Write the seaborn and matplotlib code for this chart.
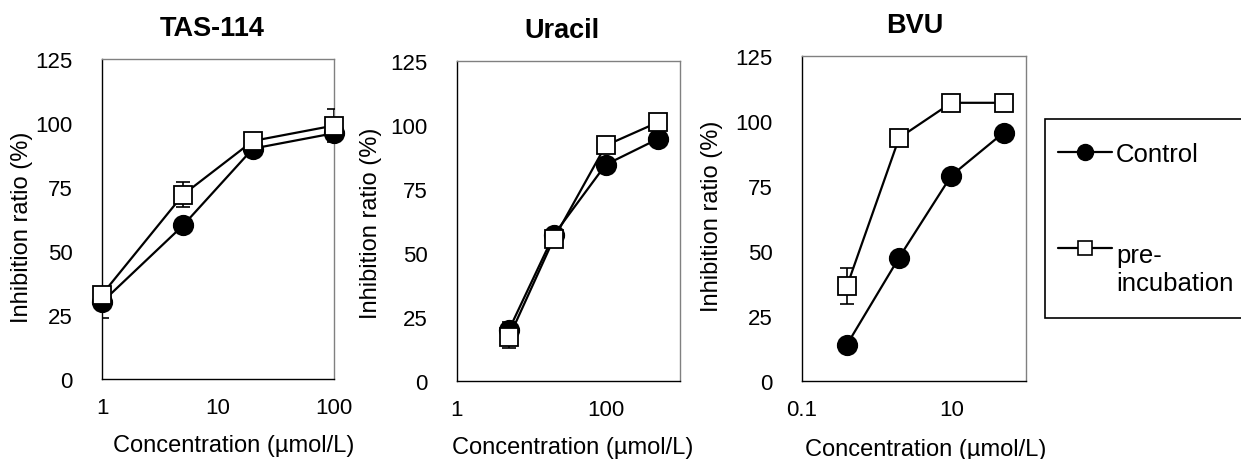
import numpy as np
import pandas as pd
import seaborn as sns
import matplotlib.pyplot as plt
from matplotlib.lines import Line2D
from matplotlib.legend_handler import HandlerLine2D

# values
TAS_CONC = [1, 5, 20, 100]
TAS_CONTROL = [30, 60, 90, 96]
TAS_CONTROL_SD = [6, 2, 2, 2]
TAS_PRE = [33, 72, 93, 99]
TAS_PRE_SD = [3, 5, 2, 6.5]

URA_CONC = [5, 20, 100, 500]
URA_CONTROL = [20, 57, 84.5, 94.5]
URA_CONTROL_SD = [3, 2, 2, 2]
URA_PRE = [17, 55.5, 92, 101]
URA_PRE_SD = [4, 2, 2, 2]

BVU_CONC = [0.4, 2, 10, 50]
BVU_CONTROL = [14, 47.5, 79, 95.5]
BVU_CONTROL_SD = [2, 2, 2, 2]
BVU_PRE = [36.5, 93.5, 107, 107]
BVU_PRE_SD = [7, 2, 2, 2]

TITLES = ['TAS-114', 'Uracil', 'BVU']
X_LIMITS = [(1, 100), (1, 1000), (0.1, 100)]
X_TICKS = [[1, 10, 100], [1, 100], [0.1, 10]]
X_TICK_LABELS = [['1', '10', '100'], ['1', '100'], ['0.1', '10']]
Y_TICKS = [0, 25, 50, 75, 100, 125]
GROUPS = ['Control', 'pre-\nincubation']

W, H = 1241, 460
# axes boxes in pixels: left, top, right, bottom
BOXES = [(102, 60, 334, 380), (457, 62, 680, 382), (802, 57, 1026, 382)]
# where the Excel-style titles sit, in axes fractions
TITLE_X = [0.473, 0.47, 0.505]
XLABEL_POS = [(0.569, -0.172), (0.52, -0.172), (0.554, -0.175)]
YLABEL_POS = [(-0.297, 0.476), (-0.338, 0.497), (-0.351, 0.509)]

sns.set_theme(style='white')
plt.rcParams['font.family'] = ['Liberation Sans', 'DejaVu Sans']
plt.rcParams['text.color'] = 'black'
plt.rcParams['axes.labelcolor'] = 'black'
plt.rcParams['xtick.color'] = 'black'
plt.rcParams['ytick.color'] = 'black'


class FirstLineHandler(HandlerLine2D):
    """Puts the legend marker level with the first line of its label."""

    def __init__(self, shift=0.0, **kw):
        super().__init__(**kw)
        self.shift = shift

    def create_artists(self, legend, orig_handle, xdescent, ydescent,
                       width, height, fontsize, trans):
        artists = super().create_artists(legend, orig_handle, xdescent,
                                         ydescent, width, height, fontsize,
                                         trans)
        for a in artists:
            a.set_ydata(np.asarray(a.get_ydata()) + self.shift * fontsize)
        return artists


def make_frame(conc, control, control_sd, pre, pre_sd):
    """
    Builds a long dataframe of one compound's two series.
    """
    control_df = pd.DataFrame({'conc': conc, 'ratio': control,
                               'sd': control_sd, 'group': GROUPS[0]})
    pre_df = pd.DataFrame({'conc': conc, 'ratio': pre,
                           'sd': pre_sd, 'group': GROUPS[1]})
    return pd.concat([control_df, pre_df], ignore_index=True)


def draw_panel(ax, data, i):
    """
    Draws the two inhibition curves with error bars on one axes.
    """
    styles = {GROUPS[0]: dict(marker='o', markersize=14,
                              markerfacecolor='black', zorder=3),
              GROUPS[1]: dict(marker='s', markersize=13,
                              markerfacecolor='white', zorder=5)}
    for group in GROUPS:
        sub = data[data['group'] == group]
        ax.errorbar(sub['conc'], sub['ratio'], yerr=sub['sd'], fmt='none',
                    ecolor='black', elinewidth=1.2, capsize=5,
                    capthick=1.2, zorder=styles[group]['zorder'] - 1)
        sns.lineplot(data=sub, x='conc', y='ratio', ax=ax, color='black',
                     linewidth=1.6, markeredgecolor='black',
                     markeredgewidth=1.3, legend=False, clip_on=False,
                     **styles[group])

    ax.set_xscale('log')
    ax.set_xlim(*X_LIMITS[i])
    ax.set_ylim(0, 125)
    ax.set_xticks(X_TICKS[i])
    ax.set_xticklabels(X_TICK_LABELS[i])
    ax.xaxis.set_minor_locator(plt.NullLocator())
    ax.set_yticks(Y_TICKS)
    ax.tick_params(axis='x', direction='in', length=6, width=1,
                   pad=13, labelsize=16)
    ax.tick_params(axis='y', length=0, pad=21, labelsize=16)
    for name, side in ax.spines.items():
        side.set_visible(True)
        side.set_linewidth(1)
        side.set_color('black' if name in ('left', 'bottom') else '#808080')
    ax.set_title(TITLES[i], fontsize=19.5, fontweight='bold', pad=17,
                 x=TITLE_X[i])
    ax.set_xlabel('Concentration (\u00b5mol/L)', fontsize=17)
    ax.set_ylabel('Inhibition ratio (%)', fontsize=17)
    ax.xaxis.set_label_coords(*XLABEL_POS[i])
    ax.yaxis.set_label_coords(*YLABEL_POS[i])


def main():
    frames = [make_frame(TAS_CONC, TAS_CONTROL, TAS_CONTROL_SD,
                         TAS_PRE, TAS_PRE_SD),
              make_frame(URA_CONC, URA_CONTROL, URA_CONTROL_SD,
                         URA_PRE, URA_PRE_SD),
              make_frame(BVU_CONC, BVU_CONTROL, BVU_CONTROL_SD,
                         BVU_PRE, BVU_PRE_SD)]

    fig = plt.figure(figsize=(W / 100, H / 100), dpi=100)
    for i, (l, t, r, b) in enumerate(BOXES):
        ax = fig.add_axes([l / W, 1 - b / H, (r - l) / W, (b - t) / H])
        draw_panel(ax, frames[i], i)

    handles = [Line2D([], [], color='black', linewidth=1.6, marker='o',
                      markersize=11.5, markerfacecolor='black'),
               Line2D([], [], color='black', linewidth=1.6, marker='s',
                      markersize=10, markerfacecolor='white',
                      markeredgecolor='black', markeredgewidth=1.2)]
    handler = {handles[0]: HandlerLine2D(xpad=-0.38),
               handles[1]: FirstLineHandler(shift=0.85, xpad=-0.38)}
    leg = fig.legend(handles, GROUPS, loc='upper left',
                     bbox_to_anchor=(1045 / W, 1 - 120 / H, 0.2, 0),
                     mode='expand', borderaxespad=0, borderpad=0.9,
                     handlelength=1.7, handletextpad=0.17,
                     labelspacing=3.0, fontsize=18.5,
                     fancybox=False, edgecolor='black', framealpha=1,
                     handler_map=handler)
    leg.get_frame().set_linewidth(1.2)

    plt.savefig('out.png', dpi=100)


if __name__ == '__main__':
    main()
